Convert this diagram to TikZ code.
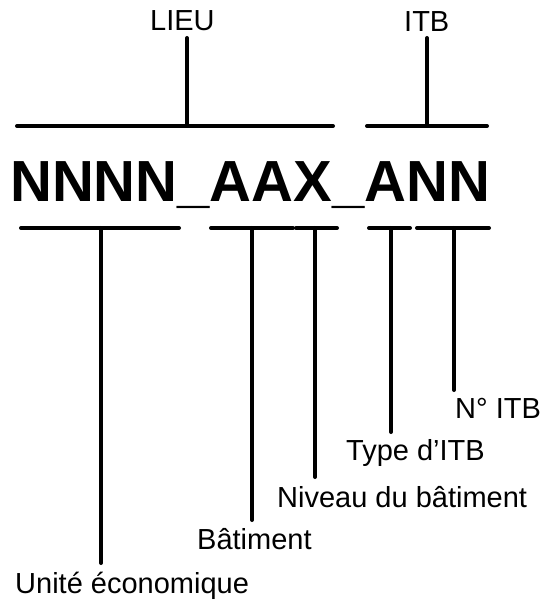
\documentclass[tikz,border=0pt]{standalone}
\usepackage{fontspec}
\setmainfont{Liberation Sans}

\begin{document}
\begin{tikzpicture}[x=1pt,y=-1pt,
  bar/.style={line width=4pt, line cap=round},
  lbl/.style={anchor=base west, inner sep=0pt, font=\fontsize{29}{31}\selectfont}]
  \useasboundingbox (0,0) rectangle (546,601);
  % code
  \node[anchor=base west, inner sep=0pt, font=\fontsize{58}{60}\selectfont\bfseries]
    (code) at (10,202) {NNNN\_AAX\_ANN};
  % upper groups
  \node[lbl] (lieu) at (150,31) {LIEU};
  \node[lbl] (itb) at (404,32) {ITB};
  \coordinate (lieuL) at (17,126);
  \coordinate (lieuR) at (333,126);
  \coordinate (lieuM) at (187,126);
  \coordinate (lieuT) at (187,38);
  \coordinate (itbL) at (367,126);
  \coordinate (itbR) at (487,126);
  \coordinate (itbM) at (427,126);
  \coordinate (itbT) at (427,38);
  \draw[bar] (lieuL) -- (lieuR);
  \draw[bar] (lieuT) -- (lieuM);
  \draw[bar] (itbL) -- (itbR);
  \draw[bar] (itbT) -- (itbM);
  % lower groups
  \node[lbl] (ue) at (15,593) {Unité économique};
  \node[lbl] (bat) at (197,549) {Bâtiment};
  \node[lbl] (niv) at (277,507) {Niveau du bâtiment};
  \node[lbl] (type) at (346,460) {Type d’ITB};
  \node[lbl] (num) at (455,418) {N° ITB};
  \coordinate (ueL) at (21,228);
  \coordinate (ueR) at (179,228);
  \coordinate (ueM) at (101,228);
  \coordinate (ueB) at (101,563);
  \coordinate (batL) at (211,228);
  \coordinate (batR) at (293,228);
  \coordinate (batM) at (252,228);
  \coordinate (batB) at (252,520);
  \coordinate (nivL) at (296,228);
  \coordinate (nivR) at (337,228);
  \coordinate (nivM) at (315,228);
  \coordinate (nivB) at (315,477);
  \coordinate (typeL) at (369,228);
  \coordinate (typeR) at (410,228);
  \coordinate (typeM) at (391,228);
  \coordinate (typeB) at (391,432);
  \coordinate (numL) at (417,228);
  \coordinate (numR) at (489,228);
  \coordinate (numM) at (454,228);
  \coordinate (numB) at (454,390);
  \draw[bar] (ueL) -- (ueR);
  \draw[bar] (ueM) -- (ueB);
  \draw[bar] (batL) -- (batR);
  \draw[bar] (batM) -- (batB);
  \draw[bar] (nivL) -- (nivR);
  \draw[bar] (nivM) -- (nivB);
  \draw[bar] (typeL) -- (typeR);
  \draw[bar] (typeM) -- (typeB);
  \draw[bar] (numL) -- (numR);
  \draw[bar] (numM) -- (numB);
\end{tikzpicture}
\end{document}
